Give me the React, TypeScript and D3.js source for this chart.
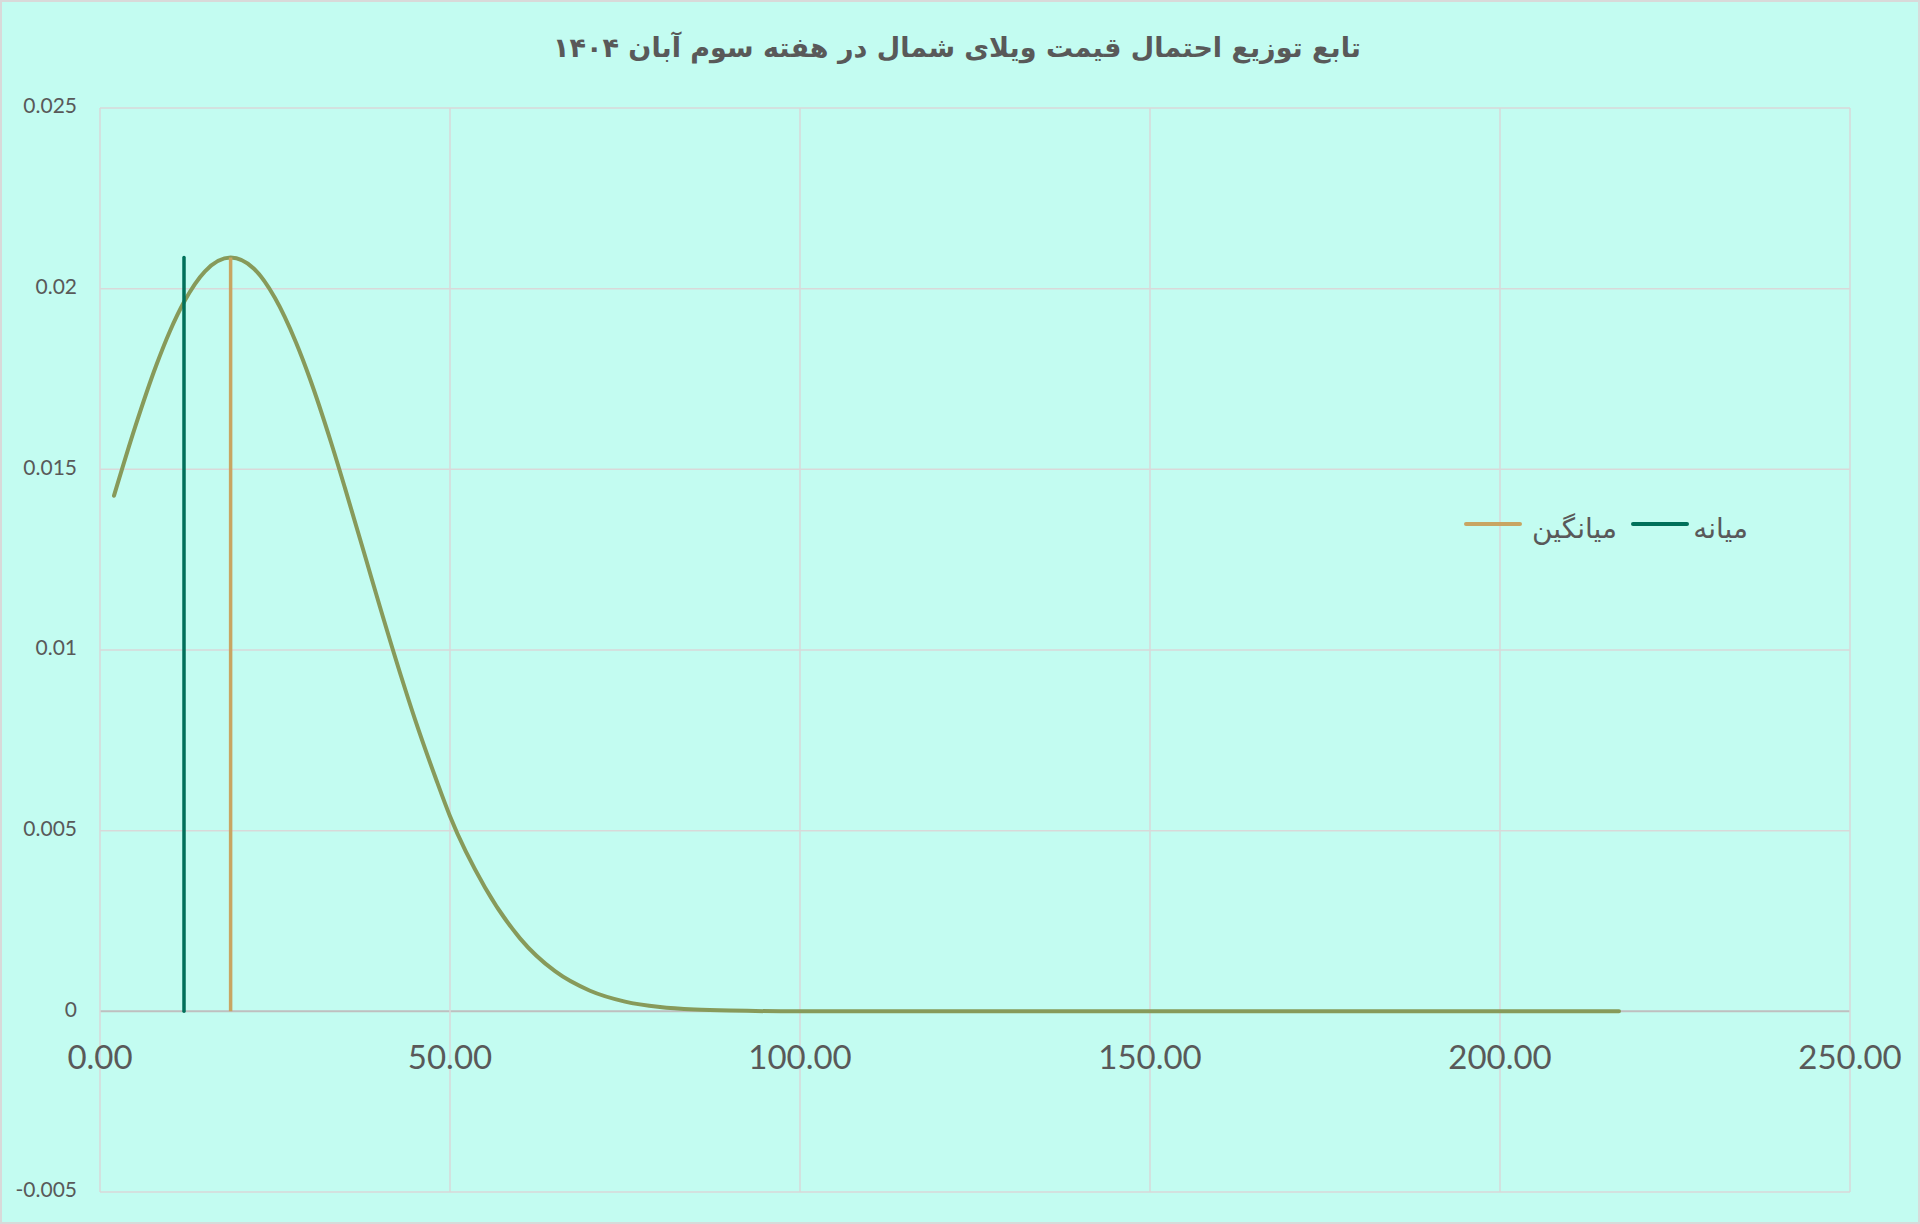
import React from "react";
import * as d3 from "d3";

const titleText = "تابع توزیع احتمال قیمت ویلای شمال در هفته سوم آبان ۱۴۰۴";
const legendMean = "میانگین";
const legendMedian = "میانه";

const xTicks = [0, 50, 100, 150, 200, 250];
const yTicks = [-0.005, 0, 0.005, 0.01, 0.015, 0.02, 0.025];

// density curve
const curveX = [2, 5, 8, 10, 12, 15, 18.66, 22, 25, 28, 30, 33, 35, 38, 40, 43, 45, 48, 50, 55, 60, 65, 70, 75, 80, 85, 90, 100, 120, 150, 180, 217];
const curveY = [0.01427, 0.01616, 0.01786, 0.01883, 0.01963, 0.02048, 0.02086, 0.02055, 0.01974, 0.01851, 0.0175, 0.01575, 0.01448, 0.01251, 0.01119, 0.00928, 0.00808, 0.00643, 0.0054, 0.00343, 0.00202, 0.00111, 0.00057, 0.00027, 0.00012, 0.00005, 0.00002, 0.0, 0.0, 0.0, 0.0, 0.0];

const medianX = 12.0;
const meanX = 18.66;
const markerTop = 0.02086;

const W = 1920;
const H = 1224;
const left = 100;
const right = 1850;
const top = 108;
const bottom = 1192;

export default function App() {
  const x = d3.scaleLinear().domain([0, 250]).range([left, right]);
  const y = d3.scaleLinear().domain([-0.005, 0.025]).range([bottom, top]);
  const pts: [number, number][] = curveX.map((v, i) => [v, curveY[i]]);
  const line = d3
    .line<[number, number]>()
    .x((d) => x(d[0]))
    .y((d) => y(d[1]))
    .curve(d3.curveMonotoneX);
  const fmtY = (v: number) => String(+v.toFixed(3));
  const grid = "#D9D9D9";
  const txt = "#595959";
  const curveColor = "#879A5A";
  const meanColor = "#C8A562";
  const medianColor = "#00705A";
  const arabicFont = "'DejaVu Sans', 'Noto Sans', sans-serif";

  return (
    <svg
      width={W}
      height={H}
      style={{ position: "absolute", left: 0, top: 0 }}
      xmlns="http://www.w3.org/2000/svg"
    >
      <rect x={1} y={1} width={W - 2} height={H - 2} fill="#C3FCF1" stroke="#D9D9D9" strokeWidth={2} />
      <text
        x={957}
        y={49}
        textAnchor="middle"
        dominantBaseline="middle"
        fontFamily={arabicFont}
        fontWeight="bold"
        fontSize={27}
        fill={txt}
      >
        {titleText}
      </text>
      {/* gridlines */}
      {yTicks.map((t) => (
        <line key={"h" + t} x1={left} x2={right} y1={y(t)} y2={y(t)} stroke={t === 0 ? "#BFBFBF" : grid} strokeWidth={t === 0 ? 2 : 1.5} />
      ))}
      {xTicks.map((t) => (
        <line key={"v" + t} x1={x(t)} x2={x(t)} y1={top} y2={bottom} stroke={grid} strokeWidth={1.5} />
      ))}
      {/* y labels */}
      {yTicks.map((t) => (
        <text key={"yl" + t} x={77} y={y(t)} textAnchor="end" dominantBaseline="middle" fontFamily="Lato, 'Open Sans', sans-serif" fontSize={21} fill={txt}>
          {fmtY(t)}
        </text>
      ))}
      {/* x labels */}
      {xTicks.map((t) => (
        <text key={"xl" + t} x={x(t)} y={1061} textAnchor="middle" dominantBaseline="middle" fontFamily="Lato, 'Open Sans', sans-serif" fontSize={33} fill={txt}>
          {t.toFixed(2)}
        </text>
      ))}
      {/* curve */}
      <path d={line(pts) || ""} fill="none" stroke={curveColor} strokeWidth={4} strokeLinecap="round" />
      {/* median and mean */}
      <line x1={x(medianX)} x2={x(medianX)} y1={y(0)} y2={y(markerTop)} stroke={medianColor} strokeWidth={3.5} strokeLinecap="round" />
      <line x1={x(meanX)} x2={x(meanX)} y1={y(0)} y2={y(markerTop)} stroke={meanColor} strokeWidth={3.5} />
      {/* legend */}
      <line x1={1466} x2={1520} y1={524} y2={524} stroke={meanColor} strokeWidth={4} strokeLinecap="round" />
      <text x={1617} y={530} textAnchor="end" dominantBaseline="middle" fontFamily={arabicFont} fontSize={28} fill={txt}>
        {legendMean}
      </text>
      <line x1={1633} x2={1687} y1={524} y2={524} stroke={medianColor} strokeWidth={4} strokeLinecap="round" />
      <text x={1748} y={530} textAnchor="end" dominantBaseline="middle" fontFamily={arabicFont} fontSize={28} fill={txt}>
        {legendMedian}
      </text>
    </svg>
  );
}
